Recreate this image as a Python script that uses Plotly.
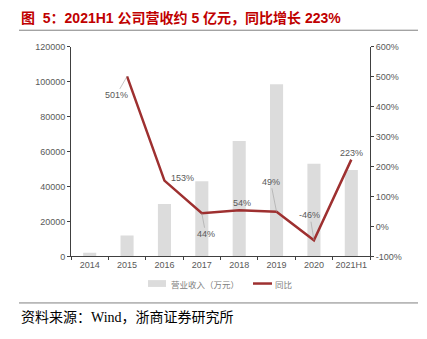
import plotly.graph_objects as go

categories = ["2014", "2015", "2016", "2017", "2018", "2019", "2020", "2021H1"]
revenue = [2000, 12000, 30000, 43000, 66000, 98500, 53000, 49500]
yoy_pct = [None, 501, 153, 44, 54, 49, -46, 223]
left_ticks = [0, 20000, 40000, 60000, 80000, 100000, 120000]
left_tick_labels = ["0", "20000", "40000", "60000", "80000", "100000", "120000"]
right_ticks = [-100, 0, 100, 200, 300, 400, 500, 600]
right_tick_labels = ["-100%", "0%", "100%", "200%", "300%", "400%", "500%", "600%"]
series_names = ["营业收入（万元）", "同比"]

W, H = 427, 339
TICK = "#595959"
AX = "#404040"
RED = "#9E3030"
BAR = "#DCDCDC"

fig = go.Figure()
fig.add_trace(go.Bar(x=categories, y=revenue, name=series_names[0],
                     marker=dict(color=BAR, line=dict(width=0)), yaxis="y"))
fig.add_trace(go.Scatter(x=categories, y=yoy_pct, name=series_names[1], mode="lines",
                         line=dict(color=RED, width=2.5), yaxis="y2", connectgaps=False))

# label placements (offsets in px) : (ax, ay, showarrow, xshift, yshift)
label_cfg = {
    "2015": (-11, 19, True, 0, 0),
    "2016": (0, 0, False, 18, 3),
    "2017": (4, 21, True, 0, 0),
    "2018": (0, 0, False, 3, 7),
    "2019": (-6, -30, True, 0, 0),
    "2020": (-4, -25, True, 0, 0),
    "2021H1": (0, 0, False, 0, 7),
}
for i, (c, v) in enumerate(zip(categories, yoy_pct)):
    if v is None:
        continue
    ax, ay, arrow, xs, ys = label_cfg[c]
    fig.add_annotation(x=i, y=v, xref="x", yref="y2", text=f"{v}%",
                       showarrow=arrow, ax=ax, ay=ay, arrowhead=0, arrowwidth=0.6,
                       arrowcolor="#A0A0A0", standoff=0, startstandoff=0,
                       xshift=xs, yshift=ys,
                       font=dict(size=9, color=TICK, family="Arial, Liberation Sans"))

# title
fig.add_annotation(xref="paper", yref="paper", x=19 / W, y=1 - 13 / H, xanchor="left", yanchor="middle",
                   text="<b>图  5：2021H1 公司营收约 5 亿元，同比增长 223%</b>", showarrow=False,
                   font=dict(size=14, color="#C00000", family="Liberation Sans, Noto Sans CJK SC"))
fig.add_annotation(xref="paper", yref="paper", x=19 / W, y=1 - 322 / H, xanchor="left", yanchor="middle",
                   text="资料来源：Wind，浙商证券研究所", showarrow=False,
                   font=dict(size=14, color="#000000", family="Liberation Serif, Noto Sans CJK SC"))
fig.add_shape(type="line", xref="paper", yref="paper", x0=19 / W, x1=418 / W,
              y0=1 - 26 / H, y1=1 - 26 / H, line=dict(color="#808080", width=1))
fig.add_shape(type="line", xref="paper", yref="paper", x0=19 / W, x1=418 / W,
              y0=1 - 307 / H, y1=1 - 307 / H, line=dict(color="#808080", width=1))

# custom legend
LY = 1 - 287 / H
fig.add_shape(type="rect", xref="paper", yref="paper", x0=148 / W, x1=166 / W,
              y0=LY - 3.5 / H, y1=LY + 3.5 / H, fillcolor=BAR, line=dict(width=0))
fig.add_annotation(xref="paper", yref="paper", x=169 / W, y=LY, xanchor="left", yanchor="middle",
                   text=series_names[0], showarrow=False,
                   font=dict(size=8.5, color="#808080", family="Noto Sans CJK SC"))
fig.add_shape(type="line", xref="paper", yref="paper", x0=253 / W, x1=272 / W,
              y0=LY, y1=LY, line=dict(color=RED, width=2.5))
fig.add_annotation(xref="paper", yref="paper", x=273 / W, y=LY, xanchor="left", yanchor="middle",
                   text=series_names[1], showarrow=False,
                   font=dict(size=8.5, color="#808080", family="Noto Sans CJK SC"))

fig.update_layout(
    width=W, height=H, margin=dict(l=0, r=0, t=0, b=0),
    paper_bgcolor="white", plot_bgcolor="white",
    bargap=0.65, showlegend=False,
    xaxis=dict(domain=[71 / W, 370 / W], type="category", range=[-0.5, len(categories) - 0.5],
               autorange=False, showline=True, linecolor=AX, linewidth=1,
               ticks="outside", ticklen=3, tickcolor=AX, tickson="boundaries", tickangle=0,
               tickfont=dict(size=9, color=TICK, family="Arial, Liberation Sans"), showgrid=False),
    yaxis=dict(domain=[1 - 259 / H, 1 - 43 / H], range=[0, 120000], autorange=False,
               tickvals=left_ticks, ticktext=left_tick_labels,
               showline=True, linecolor=AX, linewidth=1, ticks="outside", ticklen=3, tickcolor=AX,
               tickfont=dict(size=9, color=TICK, family="Arial, Liberation Sans"), showgrid=False,
               zeroline=False),
    yaxis2=dict(overlaying="y", side="right", anchor="x", range=[-100, 600], autorange=False,
                tickvals=right_ticks,
                ticktext=right_tick_labels, showline=True, linecolor=AX, linewidth=1,
                ticks="outside", ticklen=3, tickcolor=AX,
                tickfont=dict(size=9, color=TICK, family="Arial, Liberation Sans"), showgrid=False,
                zeroline=False),
)

fig.write_html("out.html")
